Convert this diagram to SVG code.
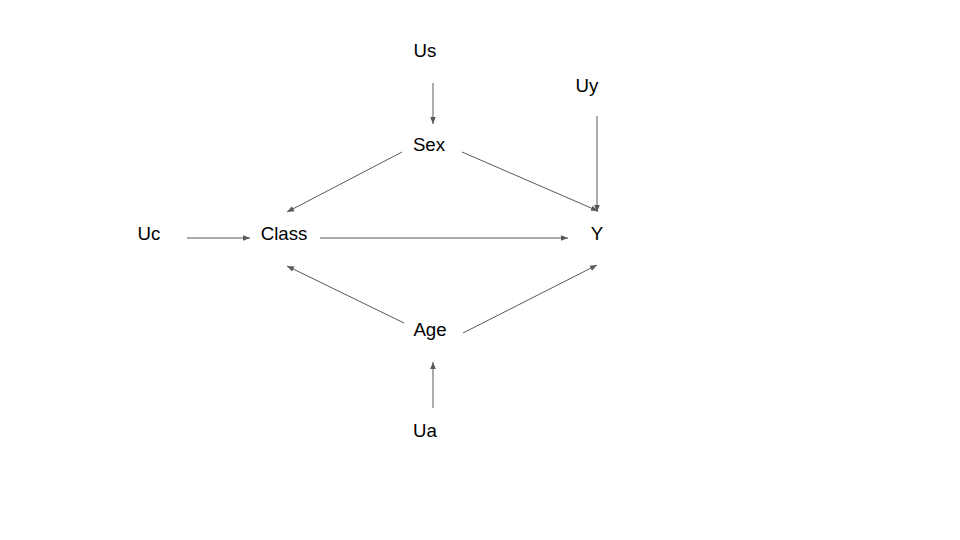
<svg xmlns="http://www.w3.org/2000/svg" width="960" height="540" viewBox="0 0 960 540">
<style>
text{font-family:"Liberation Sans",Arial,sans-serif;font-size:18.67px;fill:#000;text-anchor:middle}
.c line{stroke:#595959;stroke-width:1;marker-end:url(#ah)}
</style>
<defs>
<marker id="ah" viewBox="0 0 10 10" refX="10" refY="5" markerWidth="7" markerHeight="7" markerUnits="userSpaceOnUse" orient="auto">
<path d="M0,1 L10,5 L0,9 z" fill="#595959"/>
</marker>
</defs>
<rect width="960" height="540" fill="#fff"/>
<g id="Us"><text x="425" y="57">Us</text></g>
<g id="Uy"><text x="587" y="92">Uy</text></g>
<g id="Sex"><text x="429" y="151">Sex</text></g>
<g id="Uc"><text x="149" y="240">Uc</text></g>
<g id="Class"><text x="284" y="240">Class</text></g>
<g id="Y"><text x="597" y="240">Y</text></g>
<g id="Age"><text x="430" y="336">Age</text></g>
<g id="Ua"><text x="425" y="437">Ua</text></g>
<g id="connectors" class="c">
<line x1="433" y1="83" x2="433" y2="124"/>
<line x1="597" y1="116" x2="597" y2="212"/>
<line x1="402" y1="152" x2="287" y2="212"/>
<line x1="462" y1="152" x2="598" y2="211"/>
<line x1="187" y1="238" x2="250" y2="238"/>
<line x1="320" y1="238" x2="568" y2="238"/>
<line x1="404" y1="323" x2="287" y2="266"/>
<line x1="463" y1="333" x2="597" y2="265"/>
<line x1="433" y1="408" x2="433" y2="362"/>
</g>
</svg>
